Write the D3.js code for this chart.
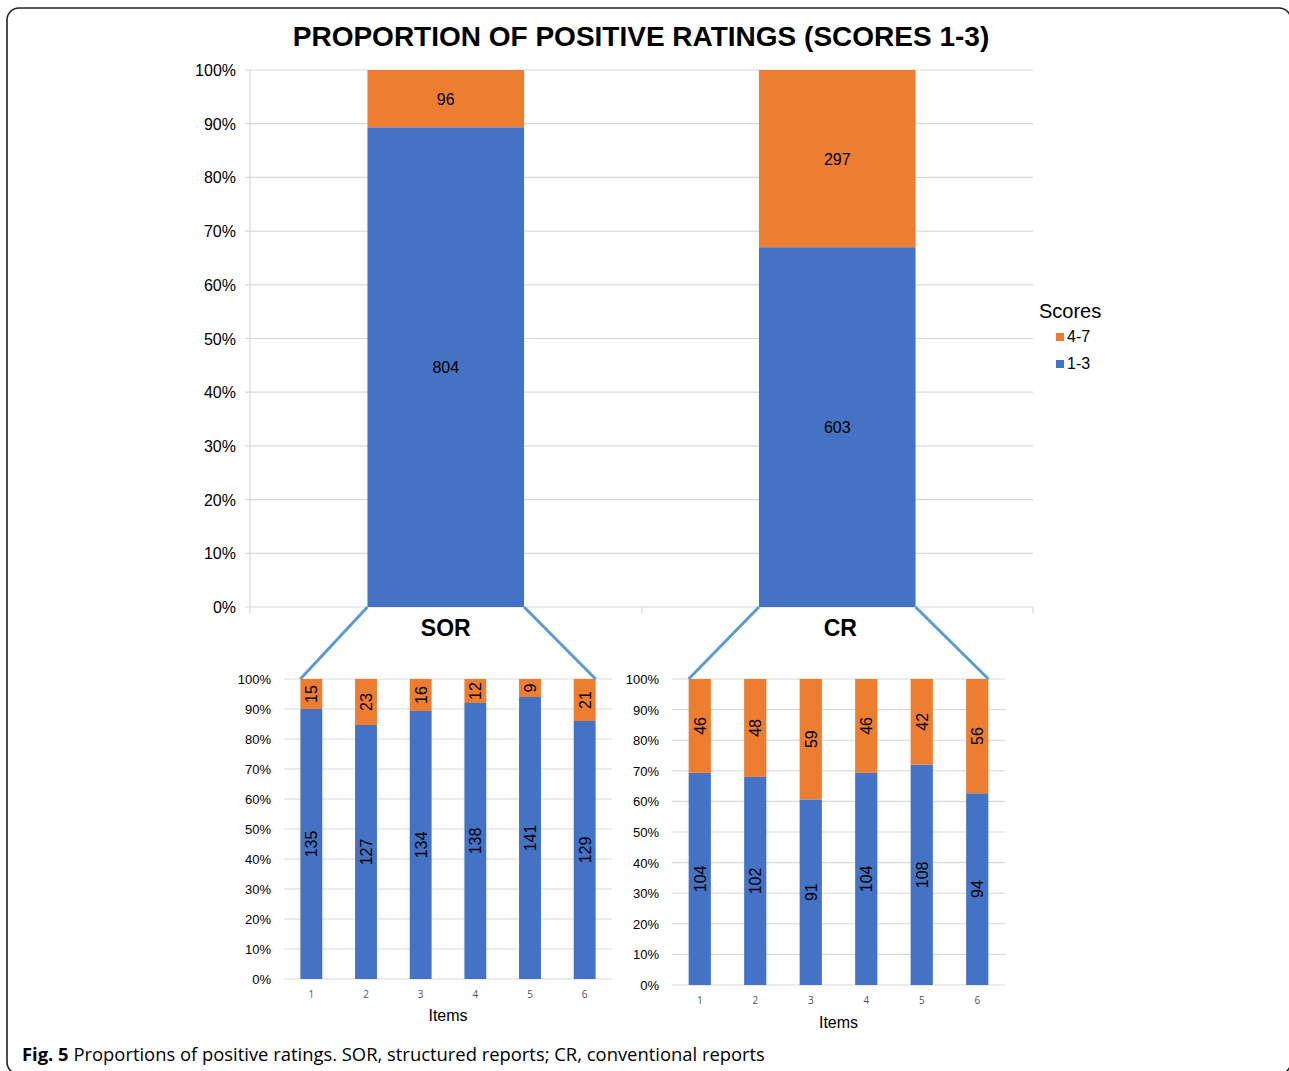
<!DOCTYPE html>
<html>
<head>
<meta charset="utf-8">
<script src="https://cdn.jsdelivr.net/npm/d3@7"></script>
<style>
  body { margin: 0; background: #fff; }
  text { font-family: "Liberation Sans", Arial, sans-serif; fill: #000; }
  text.os { font-family: "Open Sans", sans-serif; }
</style>
</head>
<body>
<div id="chart"></div>
<script>
// main chart: totals per report type
var groups = ["SOR", "CR"];
var lowTotals = [804, 603];   // scores 1-3
var highTotals = [96, 297];   // scores 4-7

// per item breakdown
var items = ["1", "2", "3", "4", "5", "6"];
var sorLow = [135, 127, 134, 138, 141, 129];
var sorHigh = [15, 23, 16, 12, 9, 21];
var crLow = [104, 102, 91, 104, 108, 94];
var crHigh = [46, 48, 59, 46, 42, 56];

var legendLabels = ["4-7", "1-3"];

var blue = "#4472c4", orange = "#ed7d31", grid = "#d9d9d9", link = "#5b9bd5";
var fmtPct = d3.format(".0%");

var svg = d3.select("#chart")
    .append("svg")
    .attr("width", 1289)
    .attr("height", 1071);

svg.append("rect")
    .attr("width", "100%")
    .attr("height", "100%")
    .attr("fill", "white");

// frame
svg.append("rect")
    .attr("x", 7).attr("y", 8)
    .attr("width", 1284).attr("height", 1066)
    .attr("rx", 12)
    .attr("fill", "none")
    .attr("stroke", "#222")
    .attr("stroke-width", 1.6);

svg.append("text")
    .attr("x", 641)
    .attr("y", 46)
    .attr("text-anchor", "middle")
    .attr("font-weight", "bold")
    .attr("font-size", 28)
    .text("PROPORTION OF POSITIVE RATINGS (SCORES 1-3)");

// ---- main chart
var x = d3.scaleBand().domain(groups).range([250, 1033]).paddingInner(0.6).paddingOuter(0.3);
var y = d3.scaleLinear().domain([0, 1]).range([607, 70]);

var main = svg.append("g");

main.selectAll(".grid")
    .data(y.ticks(10))
    .enter().append("line")
    .attr("x1", 245).attr("x2", 1033)
    .attr("y1", function(d) { return y(d); })
    .attr("y2", function(d) { return y(d); })
    .attr("stroke", grid)
    .attr("stroke-width", 1.2);

main.append("line")
    .attr("x1", 250).attr("x2", 250)
    .attr("y1", 70).attr("y2", 607)
    .attr("stroke", grid).attr("stroke-width", 1.2);

// category boundary ticks
main.selectAll(".xtick")
    .data([250, 642, 1033])
    .enter().append("line")
    .attr("x1", function(d) { return d; }).attr("x2", function(d) { return d; })
    .attr("y1", 607).attr("y2", 613)
    .attr("stroke", grid).attr("stroke-width", 1.2);

main.selectAll(".ylab")
    .data(y.ticks(10))
    .enter().append("text")
    .attr("x", 236)
    .attr("y", function(d) { return y(d) + 6; })
    .attr("text-anchor", "end")
    .attr("font-size", 16)
    .text(function(d) { return fmtPct(d); });

groups.forEach(function(g, i) {
    var total = lowTotals[i] + highTotals[i];
    var split = lowTotals[i] / total;
    main.append("rect")
        .attr("x", x(g)).attr("width", x.bandwidth())
        .attr("y", y(split)).attr("height", y(0) - y(split))
        .attr("fill", blue);
    main.append("rect")
        .attr("x", x(g)).attr("width", x.bandwidth())
        .attr("y", y(1)).attr("height", y(split) - y(1))
        .attr("fill", orange);
    main.append("text")
        .attr("x", x(g) + x.bandwidth() / 2)
        .attr("y", (y(split) + y(0)) / 2 + 6)
        .attr("text-anchor", "middle").attr("font-size", 16)
        .text(lowTotals[i]);
    main.append("text")
        .attr("x", x(g) + x.bandwidth() / 2)
        .attr("y", (y(1) + y(split)) / 2 + 6)
        .attr("text-anchor", "middle").attr("font-size", 16)
        .text(highTotals[i]);
    main.append("text")
        .attr("x", x(g) + x.bandwidth() / 2 + (i ? 3 : 0))
        .attr("y", 636)
        .attr("text-anchor", "middle")
        .attr("font-weight", "bold").attr("font-size", 23)
        .text(g);
});

// legend
var legend = svg.append("g").attr("transform", "translate(1039,318)");
legend.append("text").attr("x", 0).attr("y", 0).attr("font-size", 20).text("Scores");
legend.selectAll(".sw")
    .data(legendLabels)
    .enter().append("rect")
    .attr("x", 17).attr("y", function(d, i) { return 15 + i * 27; })
    .attr("width", 8).attr("height", 8)
    .attr("fill", function(d, i) { return i ? blue : orange; });
legend.selectAll(".lt")
    .data(legendLabels)
    .enter().append("text")
    .attr("x", 28).attr("y", function(d, i) { return 24 + i * 27; })
    .attr("font-size", 16)
    .text(function(d) { return d; });

// ---- item charts
function drawItems(left, right, top, bottom, low, high, labLeft, tickY, itemsY) {
    var g = svg.append("g");
    var xs = d3.scaleBand().domain(items).range([left, right]).paddingInner(0.6).paddingOuter(0.3);
    var ys = d3.scaleLinear().domain([0, 1]).range([bottom, top]);

    g.selectAll(".grid")
        .data(ys.ticks(10))
        .enter().append("line")
        .attr("x1", left).attr("x2", right)
        .attr("y1", function(d) { return ys(d); })
        .attr("y2", function(d) { return ys(d); })
        .attr("stroke", grid).attr("stroke-width", 1.1);

    g.selectAll(".ylab")
        .data(ys.ticks(10))
        .enter().append("text")
        .attr("x", labLeft)
        .attr("y", function(d) { return ys(d) + 5; })
        .attr("text-anchor", "end").attr("font-size", 13)
        .text(function(d) { return fmtPct(d); });

    items.forEach(function(it, i) {
        var split = low[i] / (low[i] + high[i]);
        var cx = xs(it) + xs.bandwidth() / 2;
        g.append("rect")
            .attr("x", xs(it)).attr("width", xs.bandwidth())
            .attr("y", ys(split)).attr("height", ys(0) - ys(split))
            .attr("fill", blue);
        g.append("rect")
            .attr("x", xs(it)).attr("width", xs.bandwidth())
            .attr("y", ys(1)).attr("height", ys(split) - ys(1))
            .attr("fill", orange);
        [[low[i], (ys(split) + ys(0)) / 2], [high[i], (ys(1) + ys(split)) / 2]].forEach(function(p) {
            g.append("text")
                .attr("transform", "translate(" + (cx + 6) + "," + p[1] + ") rotate(-90)")
                .attr("text-anchor", "middle").attr("font-size", 16)
                .text(p[0]);
        });
        g.append("text")
            .attr("class", "os")
            .attr("x", cx).attr("y", tickY)
            .attr("text-anchor", "middle")
            .attr("font-size", 10).style("fill", "#555")
            .text(it);
    });

    g.append("text")
        .attr("x", (left + right) / 2).attr("y", itemsY)
        .attr("text-anchor", "middle").attr("font-size", 16)
        .text("Items");

    return { x: xs, y: ys };
}

var sor = drawItems(284, 612, 679, 979, sorLow, sorHigh, 271, 998, 1021);
var cr = drawItems(672, 1005, 679, 985, crLow, crHigh, 659, 1004, 1028);

// zoom connectors from main bars to item charts
[[sor, "SOR"], [cr, "CR"]].forEach(function(s) {
    var xs = s[0].x, g = s[1];
    svg.append("line")
        .attr("x1", x(g)).attr("y1", y(0))
        .attr("x2", xs(items[0])).attr("y2", 679)
        .attr("stroke", link).attr("stroke-width", 3);
    svg.append("line")
        .attr("x1", x(g) + x.bandwidth()).attr("y1", y(0))
        .attr("x2", xs(items[5]) + xs.bandwidth()).attr("y2", 679)
        .attr("stroke", link).attr("stroke-width", 3);
});

// caption
var cap = svg.append("text")
    .attr("class", "os")
    .attr("x", 22).attr("y", 1061)
    .attr("font-size", 18.4);
cap.append("tspan").attr("font-weight", "bold").text("Fig. 5");
cap.append("tspan").text(" Proportions of positive ratings. SOR, structured reports; CR, conventional reports");
</script>
</body>
</html>
